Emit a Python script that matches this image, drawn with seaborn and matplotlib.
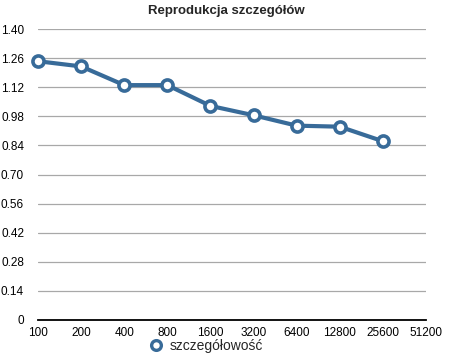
import pandas as pd
import matplotlib
matplotlib.use('Agg')
import matplotlib.pyplot as plt
from matplotlib.lines import Line2D
import seaborn as sns

# data
resolutions = ['100', '200', '400', '800', '1600', '3200', '6400', '12800', '25600', '51200']
detail = [1.245, 1.22, 1.13, 1.13, 1.03, 0.985, 0.935, 0.93, 0.86]
y_ticks = [0, 0.14, 0.28, 0.42, 0.56, 0.70, 0.84, 0.98, 1.12, 1.26, 1.40]
y_labels = ['0', '0.14', '0.28', '0.42', '0.56', '0.70', '0.84', '0.98', '1.12', '1.26', '1.40']

df = pd.DataFrame({'res': resolutions[:len(detail)], 'val': detail})

sns.set_style('white')
plt.rcParams['font.family'] = ['Liberation Sans', 'DejaVu Sans']

blue = '#386b99'
fig = plt.figure(figsize=(4.5, 3.59), dpi=100)
ax = fig.add_axes([38 / 450, 1 - 320 / 359, (426 - 38) / 450, (320 - 29) / 359])

sns.pointplot(data=df, x='res', y='val', order=resolutions, errorbar=None, color=blue,
              markers='o', linewidth=3, markersize=8, markerfacecolor='white',
              markeredgewidth=2.6, markeredgecolor=blue, ax=ax)
for ln in ax.lines:
    ln.set_clip_on(False)
    ln.set_zorder(5)

ax.set_xlim(0, 9)
ax.set_ylim(0, 1.40)
ax.set_yticks(y_ticks)
ax.set_yticklabels(y_labels)
ax.grid(axis='y', color='#a8a8a8', linewidth=0.9)
ax.set_axisbelow(True)
for s in ['top', 'right', 'left']:
    ax.spines[s].set_visible(False)
ax.spines['bottom'].set_color('black')
ax.spines['bottom'].set_linewidth(1.3)
ax.tick_params(axis='both', length=0, labelsize=8.5, colors='black')
ax.tick_params(axis='y', pad=10)
ax.tick_params(axis='x', pad=5)
ax.set_xlabel('')
ax.set_ylabel('')

fig.suptitle('Reprodukcja szczegółów', x=226 / 450, y=1 - 5 / 359, va='top',
             fontsize=9.5, fontweight='bold')

handle = Line2D([], [], linestyle='none', marker='o', markersize=7, markerfacecolor='white',
                markeredgecolor=blue, markeredgewidth=2.4)
fig.legend([handle], ['szczegółowość'], loc='center', bbox_to_anchor=(205 / 450, 1 - 346 / 359),
           frameon=False, fontsize=10, handletextpad=0.4, handlelength=1.2)

fig.savefig('out.png', dpi=100)
